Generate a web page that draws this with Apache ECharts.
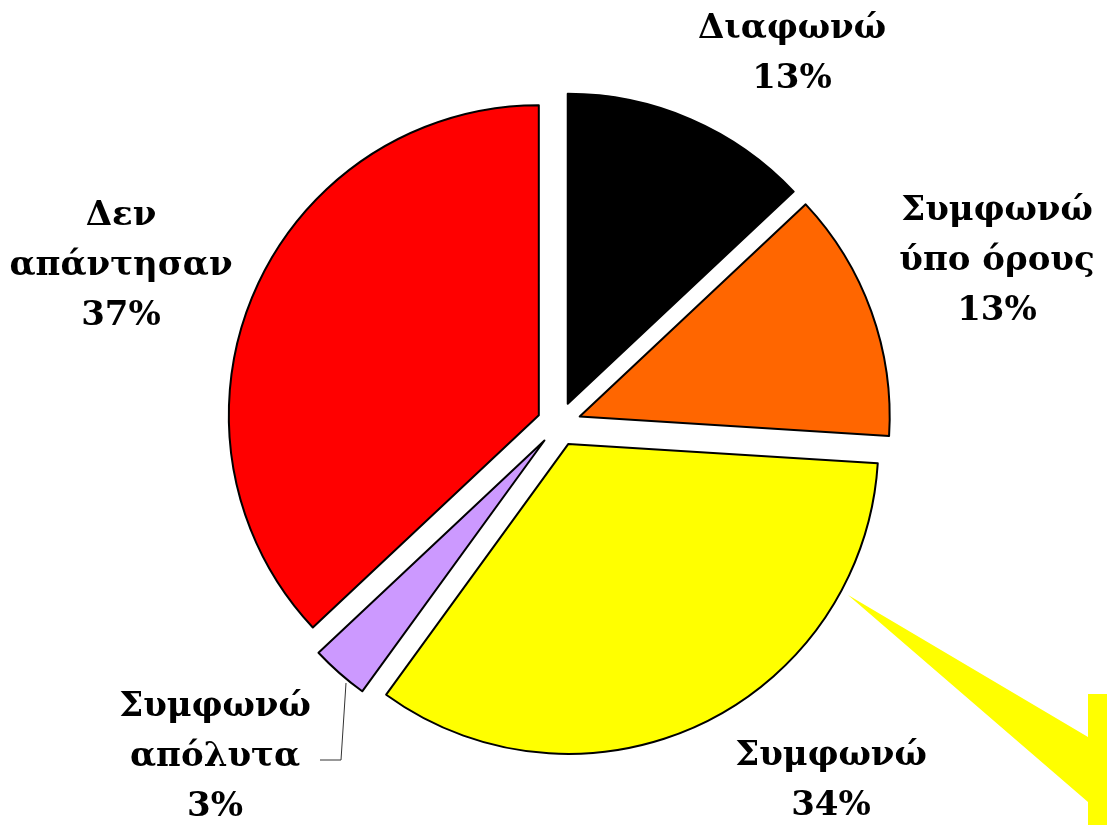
<!DOCTYPE html>
<html lang="el">
<head>
  <meta charset="UTF-8">
  <title>Pie</title>
  <style>
    html, body { margin: 0; padding: 0; background: #fff; }
  </style>
</head>
<body>
  <div id="main" style="width: 1107px; height: 825px;"></div>
  <script src="https://cdn.jsdelivr.net/npm/echarts@6/dist/echarts.min.js"></script>
  <script type="text/javascript">
    // data
    var categories = ['Διαφωνώ', 'Συμφωνώ ύπο όρους', 'Συμφωνώ', 'Συμφωνώ απόλυτα', 'Δεν απάντησαν'];
    var values = [13, 13, 34, 3, 37];
    var colors = ['#000000', '#FF6600', '#FFFF00', '#CC99FF', '#FF0000'];

    // centre of each label block
    var labelPos = [[792, 54], [997, 261], [831, 781], [215, 757], [121, 266]];

    var myChart = echarts.init(document.getElementById('main'));

    var data = categories.map(function (name, i) {
      return {
        name: name,
        value: values[i],
        selected: true,
        itemStyle: { color: colors[i] }
      };
    });

    // labels: name (first space -> line break) + percent
    var total = values.reduce(function (a, b) { return a + b; }, 0);
    var labels = categories.map(function (name, i) {
      return {
        type: 'text',
        silent: true,
        x: labelPos[i][0],
        y: labelPos[i][1],
        style: {
          text: name.replace(' ', '\n') + '\n' + Math.round(values[i] / total * 100) + '%',
          font: 'bold 34px "DejaVu Serif"',
          lineHeight: 50,
          fill: '#000',
          align: 'center',
          verticalAlign: 'middle'
        }
      };
    });

    option = {
      animation: false,
      series: [{
        type: 'pie',
        center: [559, 424],
        radius: 310,
        startAngle: 90,
        clockwise: true,
        selectedMode: 'multiple',
        selectedOffset: 22,
        emphasis: { disabled: true },
        itemStyle: { borderColor: '#000', borderWidth: 2 },
        label: { show: false },
        labelLine: { show: false },
        data: data
      }],
      graphic: [{
        // yellow callout pointer in the corner
        type: 'polygon',
        silent: true,
        shape: {
          points: [[848, 595], [1088, 737], [1088, 694], [1107, 694], [1107, 825], [1088, 825], [1088, 802]]
        },
        style: { fill: '#FFFF00' }
      }, {
        // leader line for the small slice
        type: 'polyline',
        silent: true,
        shape: { points: [[346, 683], [341, 760], [320, 760]] },
        style: { stroke: '#333', lineWidth: 1, fill: null }
      }].concat(labels)
    };
    myChart.setOption(option);
  </script>
</body>
</html>
